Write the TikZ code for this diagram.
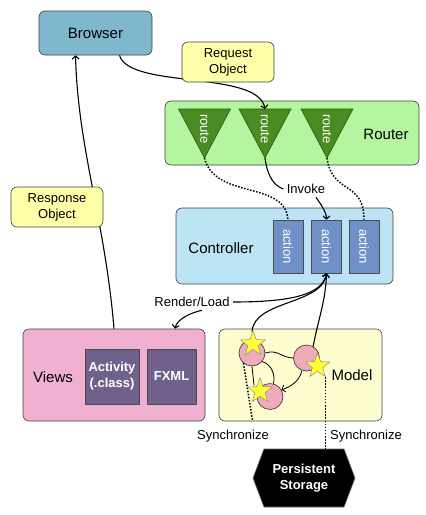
\documentclass[tikz,border=0pt]{standalone}
\usepackage{fontspec}
\setmainfont{Liberation Sans}
\usetikzlibrary{arrows.meta,shapes.geometric}
\definecolor{BrowserBlue}{HTML}{7FB8CC}
\definecolor{NoteYellow}{HTML}{FFFFAA}
\definecolor{RouterGreen}{HTML}{B5F5A0}
\definecolor{RouteGreen}{HTML}{4A8C22}
\definecolor{CtrlBlue}{HTML}{BCE4F5}
\definecolor{ActionBlue}{HTML}{7090C8}
\definecolor{ViewsPink}{HTML}{F0B0D2}
\definecolor{ViewPurple}{HTML}{70608C}
\definecolor{ModelYellow}{HTML}{FDFDD0}
\definecolor{ObjPink}{HTML}{F0AAB9}
\definecolor{StarYellow}{HTML}{FFFF33}
\newcommand{\vtext}[1]{\rotatebox{-90}{#1}}
\tikzset{
  layer/.style={draw=black!75, line width=0.6pt, rounded corners=6pt},
  big/.style={font=\fontsize{15}{18}\selectfont},
  small/.style={font=\fontsize{13}{16}\selectfont},
  note/.style={layer, fill=NoteYellow, small, align=center,
    minimum width=92pt, minimum height=40pt},
  actionbox/.style={draw=black!70, line width=0.6pt, fill=ActionBlue, text=white,
    small, minimum width=30pt, minimum height=53pt, inner sep=0pt},
  viewbox/.style={draw=black!70, line width=0.6pt, fill=ViewPurple, text=white,
    font=\fontsize{13}{16}\selectfont\bfseries, align=center,
    minimum height=55pt, inner sep=0pt},
  obj/.style={circle, draw=black!80, line width=0.6pt, fill=ObjPink, minimum size=26pt},
  starmark/.style={star, star points=5, star point ratio=2.4, minimum size=26pt,
    inner sep=0pt, fill=StarYellow, draw=black!45, line width=0.5pt},
  conn/.style={line width=1.1pt},
  arr/.style={conn, -{Straight Barb[length=3pt,width=7pt]}},
  thinconn/.style={line width=0.8pt},
  dots/.style={line width=1.5pt, dash pattern=on 1.5pt off 1.6pt}
}
\begin{document}
\begin{tikzpicture}[x=1pt,y=-1pt]
  \useasboundingbox (0,0) rectangle (426,515);

  %Layers
  \node[layer, fill=BrowserBlue, big, minimum width=113pt, minimum height=44pt] (Browser) at (95.5,33) {Browser};
  \node[layer, fill=RouterGreen, minimum width=254pt, minimum height=64pt] (Router) at (292,133) {};
  \node[big] (RouterLabel) at (386,134) {Router};
  \node[layer, fill=CtrlBlue, minimum width=217pt, minimum height=76pt] (Controller) at (284.5,246) {};
  \node[big] (CtrlLabel) at (221,248) {Controller};
  \node[layer, fill=ViewsPink, minimum width=182pt, minimum height=92pt] (Views) at (114,375) {};
  \node[big] (ViewsLabel) at (53,377) {Views};
  \node[layer, fill=ModelYellow, minimum width=163pt, minimum height=92pt] (Model) at (300.5,375) {};
  \node[big] (ModelLabel) at (352,375) {Model};

  %Routes
  \foreach \i/\x in {1/204.5,2/265,3/327} {
    \draw[draw=RouteGreen!60!black, line width=0.6pt, fill=RouteGreen]
      (\x-26,109) -- (\x+26,109) -- (\x,158) -- cycle;
    \node[white, small, rotate=-90] (Route\i) at (\x,129) {route};
    \coordinate (Top\i) at (\x,109);
    \coordinate (Tip\i) at (\x,158);
  }

  %Actions
  \foreach \i/\x in {1/288,2/326.5,3/364}
    \node[actionbox] (Action\i) at (\x,246.5) {\vtext{action}};

  %View files
  \node[viewbox, minimum width=54pt] (Activity) at (112,376.5) {Activity\\(.class)};
  \node[viewbox, minimum width=49pt] (FXML) at (171.5,376.5) {FXML};

  %Storage
  \fill[black, draw=black!60, line width=0.6pt] (253,478) -- (264,449) -- (344,449)
    -- (355,478) -- (344,507) -- (264,507) -- cycle;
  \node[text=white, align=center, minimum width=102pt, minimum height=58pt,
    font=\fontsize{13}{16}\selectfont\bfseries] (Storage) at (304,478) {Persistent\\Storage};

  %Labels
  \node[small] (Invoke) at (306,189) {Invoke};
  \node[small] (Render) at (192,302) {Render/Load};
  \node[small] (Sync1) at (233,436) {Synchronize};
  \node[small] (Sync2) at (366,436) {Synchronize};

  %Request and response
  \draw[arr] ([xshift=24pt]Browser.south) .. controls +(10,34) and +(-7,-39) .. (Top2);
  \draw[arr] (Views.north) .. controls (105,220) and (78,150) .. ([xshift=-20pt]Browser.south);
  \node[note] (Request) at (228,62) {Request\\Object};
  \node[note] (Response) at (57,207) {Response\\Object};

  %Dispatch
  \draw[dots] (Tip1) .. controls (215,200) and (285,180) .. (Action1.north);
  \draw[dots] (Tip3) .. controls (332,195) and (364,180) .. (Action3.north);
  \draw[conn] (Tip2) .. controls (268,180) and (276,186) .. (Invoke.west);
  \draw[arr] ([xshift=10pt]Invoke.south) .. controls +(4,6) and +(0,-8) .. (Action2.north);

  %Render
  \draw[arr] (Render.east) .. controls (290,302) and (322,295) .. (Action2.south);
  \draw[arr] ([xshift=10pt]Render.south) .. controls +(-10,2) and +(2,-10) .. ([xshift=61pt]Views.north);

  %Model objects
  \node[obj] (C1) at (252,353) {};
  \node[obj] (C2) at (306.5,358) {};
  \node[obj] (C3) at (270,396.5) {};
  \draw[arr] ([yshift=8pt]C1.north) .. controls (254,300) and (322,305) .. (Action2.south);
  \draw[conn] (C2.60) .. controls (318,320) and (326,300) .. (Action2.south);
  \draw[thinconn] (C1.east) .. controls (278,349) and (282,358) .. (C2.west);
  \draw[thinconn] (C1.south) -- ++(2,19);
  \draw[thinconn] (C1.-40) .. controls +(10,3) and +(2,-8) .. (C3.75);
  \draw[thinconn, -{Straight Barb[length=3pt,width=7pt]}] (C2.-110) .. controls +(-3,12) and +(8,-3) .. (C3.30);
  \node[starmark] (Star1) at (253,344) {};
  \node[starmark] (Star2) at (317.5,366) {};
  \node[starmark] (Star3) at (260,391) {};

  %Synchronize
  \draw[dots] (C1.-130) -- ++(9,57);
  \draw[dots] (Star2.outer point 4) -- (Star2.outer point 4 |- Storage.north);
\end{tikzpicture}
\end{document}
